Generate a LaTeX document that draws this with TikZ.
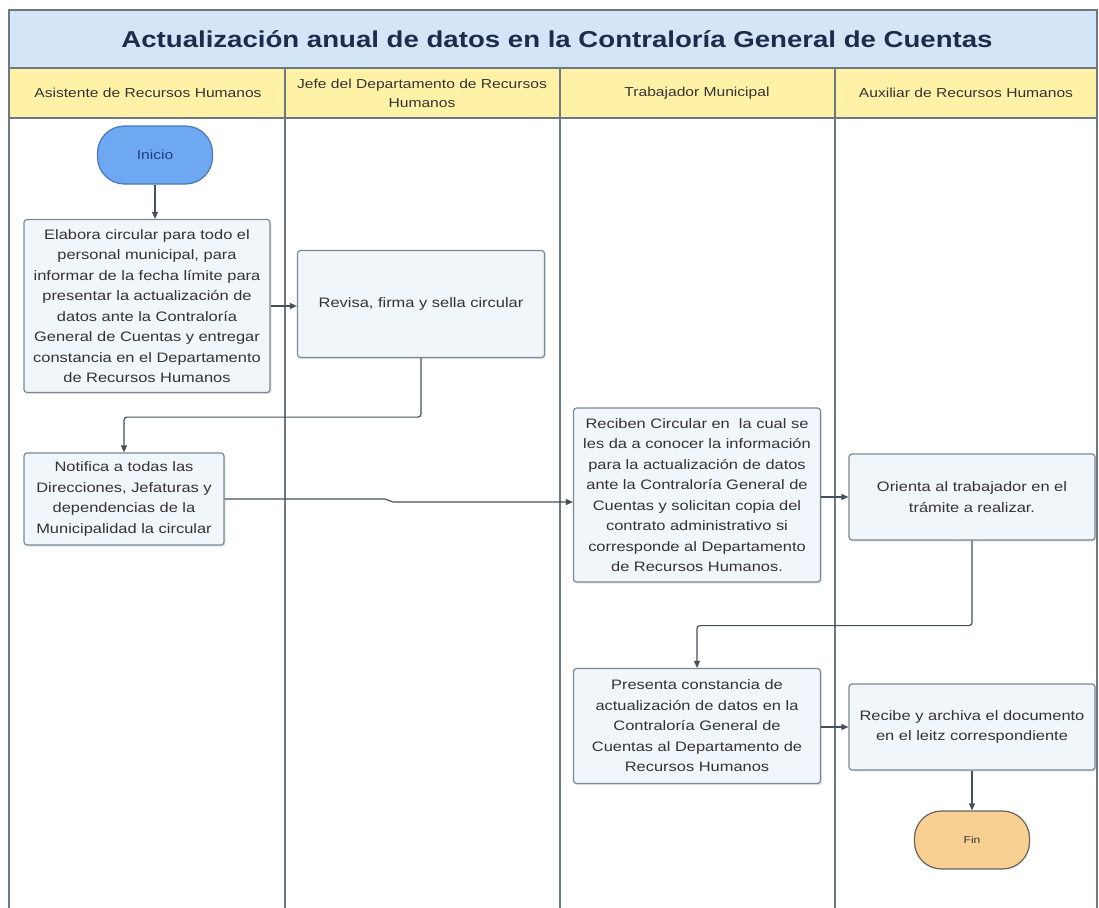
\documentclass[tikz,border=0pt]{standalone}
\usepackage{fontspec}
\setmainfont{Liberation Sans}[FakeStretch=1.2]
\usetikzlibrary{arrows.meta,shadows}
\definecolor{lanec}{HTML}{6E7882}
\definecolor{titlefill}{HTML}{D3E5F7}
\definecolor{headfill}{HTML}{FFF2A6}
\definecolor{titletext}{HTML}{1F2B48}
\definecolor{boxfill}{HTML}{F1F6FB}
\definecolor{boxline}{HTML}{7D8894}
\definecolor{textc}{HTML}{333333}
\definecolor{conn}{HTML}{46505A}
\definecolor{startfill}{HTML}{6EA8F2}
\definecolor{startline}{HTML}{4A78B8}
\definecolor{starttext}{HTML}{1F3F80}
\definecolor{endfill}{HTML}{F8D092}
\definecolor{endline}{HTML}{6A6256}
\begin{document}
\begin{tikzpicture}[x=1pt,y=-1pt,
  lane/.style={draw=lanec,line width=1.4pt},
  process/.style={rectangle,rounded corners=3pt,draw=boxline,fill=boxfill,line width=1.2pt,
    align=center,inner sep=0pt,text=textc,font=\fontsize{13.7}{20.5}\selectfont,
    drop shadow={shadow xshift=1.5pt,shadow yshift=-1.5pt,opacity=0.2}},
  terminal/.style={rectangle,rounded corners=27pt,line width=1.2pt,align=center,
    minimum width=115pt,minimum height=58pt,inner sep=0pt},
  headtext/.style={align=center,text=textc,font=\fontsize{13}{19}\selectfont},
  connector/.style={draw=conn,line width=1.2pt,-{Triangle[width=6pt,length=7pt]},rounded corners=3pt}]
\useasboundingbox (0,0) rectangle (1099,907);
\clip (0,0) rectangle (1099,907);
\fill[white] (0,0) rectangle (1099,907);
\fill[titlefill] (9,10) rectangle (1097,68);
\fill[headfill] (9,68) rectangle (1097,118);
\draw[lane] (9,10) rectangle (1097,930);
\draw[lane] (9,68) -- (1097,68);
\draw[lane] (9,118) -- (1097,118);
\draw[lane] (285,68) -- (285,930);
\draw[lane] (560,68) -- (560,930);
\draw[lane] (835,68) -- (835,930);

\node[text=titletext,font=\fontsize{23}{28}\bfseries] (title) at (557,39) {Actualización anual de datos en la Contraloría General de Cuentas};
\node[headtext] (h1) at (148,93) {Asistente de Recursos Humanos};
\node[headtext] (h2) at (422,93) {Jefe del Departamento de Recursos\\Humanos};
\node[headtext] (h3) at (697,93) {Trabajador Municipal};
\node[headtext] (h4) at (966,93) {Auxiliar de Recursos Humanos};

\node[terminal,draw=startline,fill=startfill,text=starttext,font=\fontsize{13}{15}\selectfont] (ini) at (155,155) {Inicio};
\node[process,minimum width=246pt,minimum height=173pt] (ela) at (147,306) {Elabora circular para todo el\\personal municipal, para\\informar de la fecha límite para\\presentar la actualización de\\datos ante la Contraloría\\General de Cuentas y entregar\\constancia en el Departamento\\de Recursos Humanos};
\node[process,minimum width=247pt,minimum height=107pt] (rev) at (421,304) {Revisa, firma y sella circular};
\node[process,minimum width=200pt,minimum height=92pt] (noti) at (124,499) {Notifica a todas las\\Direcciones, Jefaturas y\\dependencias de la\\Municipalidad la circular};
\node[process,minimum width=247pt,minimum height=174pt] (rec) at (697,495) {Reciben Circular en \ la cual se\\les da a conocer la información\\para la actualización de datos\\ante la Contraloría General de\\Cuentas y solicitan copia del\\contrato administrativo si\\corresponde al Departamento\\de Recursos Humanos.};
\node[process,minimum width=246pt,minimum height=86pt] (ori) at (972,497) {Orienta al trabajador en el\\trámite a realizar.};
\node[process,minimum width=247pt,minimum height=115pt] (pre) at (697,726) {Presenta constancia de\\actualización de datos en la\\Contraloría General de\\Cuentas al Departamento de\\Recursos Humanos};
\node[process,minimum width=246pt,minimum height=86pt] (rcb) at (972,727) {Recibe y archiva el documento\\en el leitz correspondiente};
\node[terminal,draw=endline,fill=endfill,text=textc,font=\fontsize{10}{12}\selectfont] (fin) at (972,840) {Fin};

\coordinate (j1) at (385,499);
\coordinate (j2) at (393,502);
\draw[connector] (ini.south) -- (ini.south |- ela.north);
\draw[connector] (ela.east) -- (ela.east -| rev.west);
\draw[connector] (rev.south) -- ++(0,59) -| (noti.north);
\draw[connector,rounded corners=0pt] (noti.east) -- (j1) -- (j2) -- (j2 -| rec.west);
\draw[connector] (rec.east |- ori.west) -- (ori.west);
\draw[connector] (ori.south) -- ++(0,85) -| (pre.north);
\draw[connector] (pre.east |- rcb.west) -- (rcb.west);
\draw[connector] (rcb) -- (fin);
\end{tikzpicture}
\end{document}
